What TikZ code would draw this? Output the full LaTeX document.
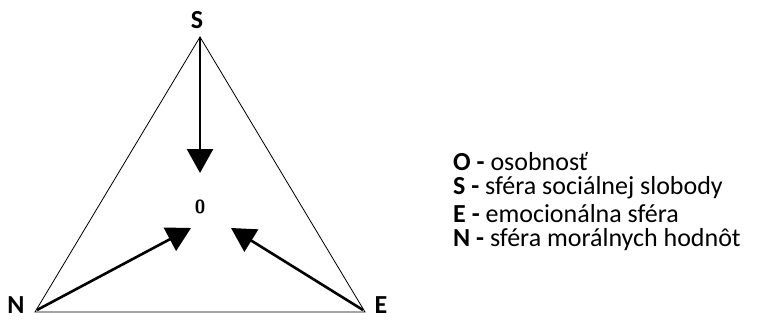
\documentclass[tikz,border=0pt]{standalone}
\usepackage{fontspec}
\setmainfont{Carlito}
\usepackage{tikz}
\usetikzlibrary{arrows.meta}

\begin{document}
\begin{tikzpicture}[
    x=1pt, y=-1pt,
    bord/.style={draw, line width=0.8pt},
    fleche/.style={line width=2.6pt, -{Triangle[length=24pt,width=26pt]}},
    sommet/.style={font=\bfseries\fontsize{26}{30}\selectfont, inner sep=0pt},
    centre/.style={font=\bfseries\sffamily\fontsize{19}{22}\selectfont, inner sep=0pt},
    legende/.style={anchor=west, inner sep=0pt, font=\fontsize{26}{30}\selectfont},
  ]
  \useasboundingbox (0,0) rectangle (765,321);
  % les trois sommets du triangle
  \coordinate (s) at (200,37);
  \coordinate (n) at (35,312);
  \coordinate (e) at (365,312);
  \draw[bord] (s) -- (n) -- (e) -- cycle;
  \node[sommet] (S) at (197,20) {S};
  \node[sommet] (N) at (16,305) {N};
  \node[sommet] (E) at (381,305) {E};
  \node[centre] (O) at (200,207) {0};
  % les fleches vers le centre
  \coordinate (ps) at (200,173);
  \coordinate (pn) at (191,228);
  \coordinate (pe) at (231,228);
  \draw[fleche] (s) -- (ps);
  \draw[fleche] (n) ++(2,-2) coordinate (n2) (n2) -- (pn);
  \draw[fleche] (e) ++(-2,-2) coordinate (e2) (e2) -- (pe);
  % legende
  \node[legende] (lo) at (453,162) {\textbf{O -} osobnosť};
  \node[legende] (ls) at (453,188) {\textbf{S -} sféra sociálnej slobody};
  \node[legende] (le) at (453,214) {\textbf{E -} emocionálna sféra};
  \node[legende] (ln) at (453,240) {\textbf{N -} sféra morálnych hodnôt};
\end{tikzpicture}
\end{document}
